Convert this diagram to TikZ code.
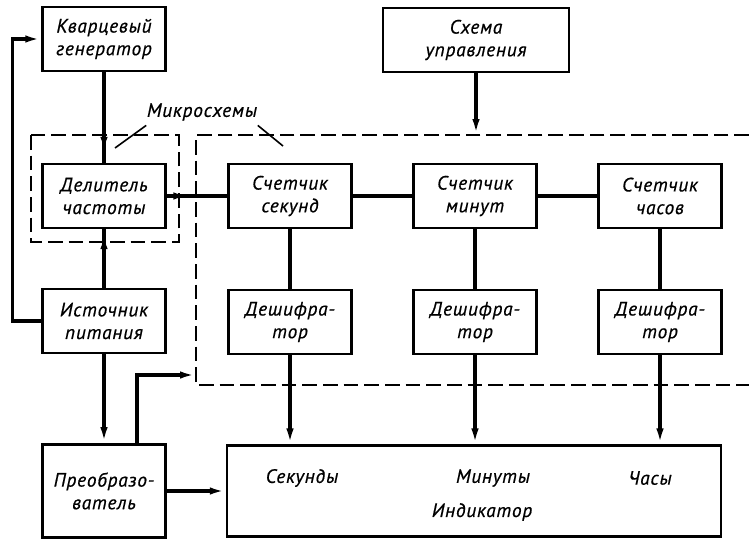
\documentclass[tikz,border=0pt]{standalone}
\usepackage{fontspec}
\newfontfamily\gost[LetterSpace=4,FakeBold=0.6]{PT Sans}
\usetikzlibrary{arrows.meta,calc,decorations.markings}

\begin{document}
\begin{tikzpicture}[
  x=0.75pt, y=-0.75pt,
  block/.style={rectangle, draw, line width=1.8pt, inner sep=0pt, minimum width=92.25pt, minimum height=48pt, align=center, font=\gost\itshape\fontsize{14.5}{17}\selectfont},
  txt/.style={font=\gost\itshape\fontsize{14.5}{17}\selectfont},
  conn/.style={line width=2.3pt},
  arrow/.style={conn, -{Latex[length=12pt,width=5.5pt]}},
  tip at/.style={conn, decoration={markings, mark=at position #1 with {\arrow{Latex[length=12pt,width=5.5pt]}}}, postaction={decorate}},
  chip/.style={line width=1.6pt, dash pattern=on 11pt off 4.5pt},
  leader/.style={line width=1.2pt},
]
\useasboundingbox (0,0) rectangle (749,539);

% === Left column ===
\node[block] (gen) at (104,39) {Кварцевый\\генератор};
\node[block] (div) at (104,196) {Делитель\\частоты};
\node[block] (psu) at (104,321) {Источник\\питания};
\node[block, minimum height=70pt] (conv) at (104,491) {Преобразо-\\ватель};

% === Control and counters ===
\node[block, minimum width=139.5pt] (ctl) at (476,40) {Схема\\управления};

\node[block] (csec) at (290,196) {Счетчик\\секунд};
\node[block] (cmin) at (475,196) {Счетчик\\минут};
\node[block] (chr) at (660,196) {Счетчик\\часов};

\node[block] (dsec) at (290,322) {Дешифра-\\тор};
\node[block] (dmin) at (475,322) {Дешифра-\\тор};
\node[block] (dhr) at (660,322) {Дешифра-\\тор};

% === Indicator ===
\node[block, minimum width=370.5pt, minimum height=68pt] (ind) at (474,491) {};
\node[txt] (indsec) at (302,478) {Секунды};
\node[txt] (indmin) at (493,478) {Минуты};
\node[txt] (indhr) at (650,478) {Часы};
\node[txt] (indname) at (482,512) {Индикатор};

% === Chip outlines ===
\coordinate (mcTL) at (196,135);
\coordinate (pwrin) at (196,375);
\draw[chip] (31,135) rectangle (179,242);
\draw[chip] (749,135) -- (mcTL) -- (196,385) -- (749,385);

\node[txt] (mclabel) at (202,112) {Микросхемы};
\coordinate (lead1) at (115,148);
\coordinate (lead2) at (283,146);
\draw[leader] (mclabel.south west) ++(4,0) -- (lead1);
\draw[leader] (mclabel.south east) ++(-4,0) -- (lead2);

% === Connections ===
\draw[tip at=-7.5pt] (gen) -- (div);
\draw[tip at=-3pt] (psu) -- (div);
\draw[arrow] (psu.west) -- ++(-29,0) |- (gen.west);
\draw[tip at=-28.5pt] (div) -- (csec);
\draw[conn] (csec) -- (cmin);
\draw[conn] (cmin) -- (chr);
\draw[arrow] (ctl) -- (ctl |- mcTL);

\foreach \c/\d in {csec/dsec, cmin/dmin, chr/dhr} {
  \draw[conn] (\c) -- (\d);
  \draw[arrow] (\d) -- (\d |- ind.north);
}

\draw[arrow] (psu) -- (conv);
\draw[arrow] ($(conv.north)+(33,0)$) |- (pwrin);
\draw[arrow] (conv) -- (ind);

\end{tikzpicture}
\end{document}
